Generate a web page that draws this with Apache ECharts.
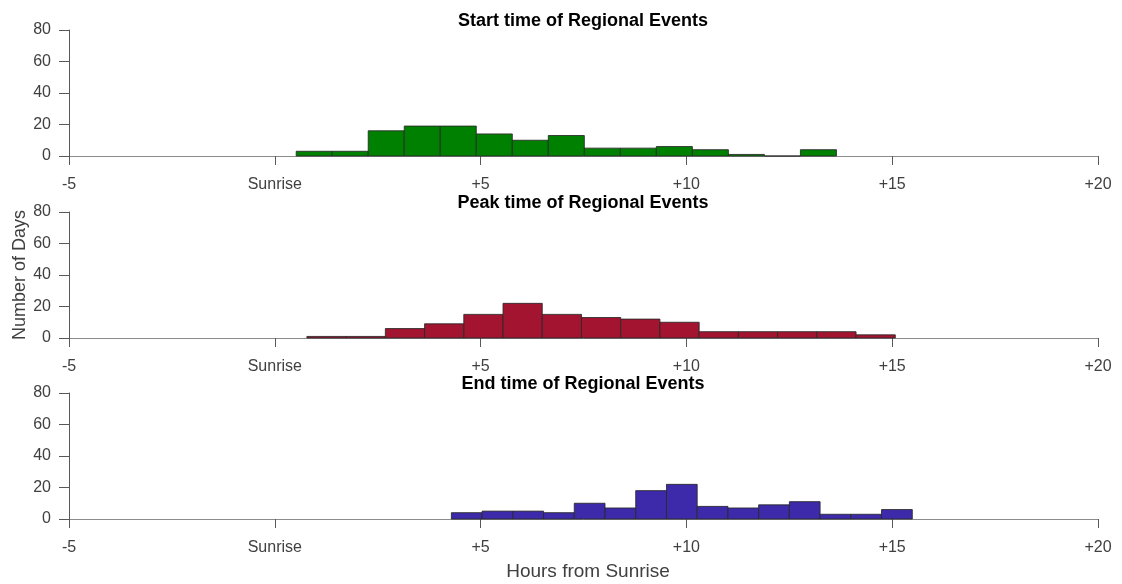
<!DOCTYPE html>
<html>
<head>
<meta charset="utf-8">
<script src="https://cdn.jsdelivr.net/npm/echarts@6/dist/echarts.min.js"></script>
<style>
  html, body { margin: 0; padding: 0; background: #ffffff; }
  #chart { width: 1122px; height: 584px; }
</style>
</head>
<body>
<div id="chart"></div>
<script>
// Histogram bin edges (hours from sunrise) and counts per bin
const startEdges = [0.52, 1.395, 2.27, 3.145, 4.02, 4.895, 5.77, 6.645, 7.52, 8.395, 9.27, 10.145, 11.02, 11.895, 12.77, 13.645];
const startCounts = [3, 3, 16, 19, 19, 14, 10, 13, 5, 5, 6, 4, 1, 0, 4];

const peakEdges = [0.78, 1.733, 2.686, 3.639, 4.592, 5.545, 6.498, 7.451, 8.404, 9.357, 10.31, 11.263, 12.216, 13.169, 14.122, 15.075];
const peakCounts = [1, 1, 6, 9, 15, 22, 15, 13, 12, 10, 4, 4, 4, 4, 2];

const endEdges = [4.29, 5.037, 5.783, 6.53, 7.276, 8.023, 8.769, 9.516, 10.262, 11.009, 11.755, 12.502, 13.248, 13.995, 14.741, 15.488];
const endCounts = [4, 5, 5, 4, 10, 7, 18, 22, 8, 7, 9, 11, 3, 3, 6];

const panelTitles = ['Start time of Regional Events', 'Peak time of Regional Events', 'End time of Regional Events'];
const yTicks = [0, 20, 40, 60, 80];
const xTicks = [-5, 0, 5, 10, 15, 20];

const panels = [
  { edges: startEdges, counts: startCounts, color: '#008000' },
  { edges: peakEdges, counts: peakCounts, color: '#A2142F' },
  { edges: endEdges, counts: endCounts, color: '#3D2AAB' }
];

const gridTops = [30, 212, 393];
const gridHeight = 126;
const font = 'Liberation Sans, Arial, Helvetica, sans-serif';
const axisColor = '#595959';
const labelColor = '#404040';

function xLabel(v) {
  if (v === 0) return 'Sunrise';
  return v > 0 ? '+' + v : String(v);
}

const grids = [], xAxes = [], yAxes = [], series = [], titles = [];

panels.forEach((p, i) => {
  grids.push({ left: 69, width: 1029, top: gridTops[i], height: gridHeight, containLabel: false, outerBoundsMode: 'none' });
  xAxes.push({
    type: 'value', gridIndex: i,
    min: xTicks[0], max: xTicks[xTicks.length - 1], interval: 5,
    axisLine: { show: true, onZero: false, lineStyle: { color: '#8c8c8c', width: 1 } },
    axisTick: { show: true, inside: false, length: 9, lineStyle: { color: axisColor } },
    axisLabel: { color: labelColor, fontSize: 16, fontFamily: font, margin: 21, formatter: xLabel },
    splitLine: { show: false }
  });
  yAxes.push({
    type: 'value', gridIndex: i,
    min: yTicks[0], max: yTicks[yTicks.length - 1], interval: 20,
    axisLine: { show: true, onZero: false, lineStyle: { color: axisColor, width: 1 } },
    axisTick: { show: true, inside: false, length: 10, lineStyle: { color: axisColor } },
    axisLabel: { color: labelColor, fontSize: 16, fontFamily: font, margin: 18 },
    splitLine: { show: false },
    name: i === 1 ? 'Number of Days' : '',
    nameLocation: 'middle',
    nameGap: 40,
    nameMoveOverlap: false,
    nameTextStyle: { color: labelColor, fontSize: 18, fontFamily: font }
  });
  const data = p.counts.map((c, k) => [p.edges[k], p.edges[k + 1], c]);
  series.push({
    type: 'custom',
    xAxisIndex: i, yAxisIndex: i,
    encode: { x: [0, 1], y: 2 },
    data: data,
    renderItem: function (params, api) {
      const a = api.coord([api.value(0), api.value(2)]);
      const b = api.coord([api.value(1), 0]);
      return {
        type: 'rect',
        shape: { x: a[0], y: a[1], width: b[0] - a[0], height: b[1] - a[1] },
        style: { fill: p.color, stroke: 'rgba(40,40,40,0.85)', lineWidth: 1 }
      };
    },
    z: 3
  });
  titles.push({
    text: panelTitles[i],
    left: 578, textAlign: 'center',
    top: gridTops[i] - 23,
    textStyle: { fontSize: 18, fontWeight: 'bold', color: '#000', fontFamily: font }
  });
});

titles.push({
  text: 'Hours from Sunrise',
  left: 583, textAlign: 'center', top: 557,
  textStyle: { fontSize: 19, fontWeight: 'normal', color: labelColor, fontFamily: font }
});

const chart = echarts.init(document.getElementById('chart'), null, { renderer: 'canvas' });
chart.setOption({
  animation: false,
  backgroundColor: '#ffffff',
  title: titles,
  grid: grids,
  xAxis: xAxes,
  yAxis: yAxes,
  series: series
});
</script>
</body>
</html>
